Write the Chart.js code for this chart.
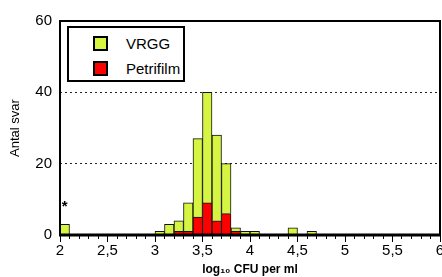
<!DOCTYPE html>
<html>
<head>
<meta charset="utf-8">
<script src="https://cdn.jsdelivr.net/npm/chart.js@4.4.1/dist/chart.umd.min.js"></script>
<style>
  html, body { margin: 0; padding: 0; background: #fff; overflow: hidden; }
  #wrap { position: relative; width: 442px; height: 277px; }
  #legend {
    position: absolute; left: 67px; top: 26px; width: 114px; height: 52px;
    border: 2px solid #000; background: #fff;
    font-family: "Liberation Sans", Arial, sans-serif; font-size: 15px; color: #000;
  }
  .item { position: absolute; left: 24px; height: 16px; line-height: 16px; }
  .item span.box { position: absolute; left: 0; top: 0; width: 11px; height: 11px; border: 2px solid #000; }
  .item span.txt { position: absolute; left: 33px; top: 0; white-space: nowrap; }
</style>
</head>
<body>
<div id="wrap">
  <canvas id="chart" width="442" height="277"></canvas>
  <div id="legend"></div>
</div>
<script>
// bin start (log10 CFU per ml), bins are 0.1 wide; only bins with answers listed
const binStarts = [2.0, 3.0, 3.1, 3.2, 3.3, 3.4, 3.5, 3.6, 3.7, 3.8, 3.9, 4.0, 4.4, 4.6];
// number of answers per bin, stacked: Petrifilm at bottom, VRGG on top
const petrifilm = [0, 0, 0, 1, 1, 5, 9, 4, 6, 1, 0, 0, 0, 0];
const vrgg      = [3, 1, 3, 3, 8, 22, 31, 24, 14, 1, 1, 1, 2, 1];
const yTicks = [0, 20, 40, 60];

const GREEN = '#d6f542';
const RED = '#ff0000';
const FONT = '"Liberation Sans", Arial, sans-serif';

function toPoints(values) {
    return binStarts.map((b, i) => ({ x: +(b + 0.05).toFixed(2), y: values[i] || null }));
}

// frame around the plot area and the asterisk marking the outlier bin
const framePlugin = {
    id: 'frame',
    afterDraw(chart) {
        const a = chart.chartArea;
        const ctx = chart.ctx;
        ctx.save();
        ctx.strokeStyle = '#000';
        ctx.lineWidth = 2;
        ctx.strokeRect(a.left, a.top, a.right - a.left, a.bottom - a.top);
        ctx.lineWidth = 3;
        ctx.beginPath();
        ctx.moveTo(a.left - 1, a.bottom);
        ctx.lineTo(a.right + 1, a.bottom);
        ctx.stroke();

        const xs = chart.scales.x, ys = chart.scales.y;
        ctx.fillStyle = '#000';
        ctx.font = 'bold 15px ' + FONT;
        ctx.textAlign = 'center';
        ctx.textBaseline = 'middle';
        ctx.fillText('*', xs.getPixelForValue(binStarts[0] + 0.05), ys.getPixelForValue(vrgg[0] + petrifilm[0]) - 17);
        ctx.restore();
    }
};

const chart = new Chart(document.getElementById('chart'), {
    type: 'bar',
    data: {
        datasets: [
            {
                label: 'Petrifilm',
                data: toPoints(petrifilm),
                xAxisID: 'x',
                backgroundColor: RED,
                borderColor: '#111',
                borderWidth: 1,
                barPercentage: 1,
                categoryPercentage: 1
            },
            {
                label: 'VRGG',
                data: toPoints(vrgg),
                xAxisID: 'x',
                backgroundColor: GREEN,
                borderColor: '#111',
                borderWidth: 1,
                barPercentage: 1,
                categoryPercentage: 1
            }
        ]
    },
    options: {
        responsive: false,
        animation: false,
        layout: { padding: { top: 21, right: 2, left: 8, bottom: 0 } },
        plugins: {
            legend: { display: false },
            tooltip: { enabled: false }
        },
        scales: {
            x: {
                type: 'linear',
                stacked: true,
                offset: false,
                min: 2,
                max: 6,
                weight: 1,
                border: { display: false },
                grid: {
                    offset: false,
                    drawOnChartArea: false,
                    drawTicks: true,
                    tickLength: 7,
                    color: '#000'
                },
                ticks: {
                    stepSize: 0.5,
                    autoSkip: false,
                    maxRotation: 0,
                    padding: 0,
                    color: '#000',
                    font: { family: FONT, size: 15 },
                    callback: v => String(v).replace('.', ',')
                },
                title: {
                    display: true,
                    text: 'log\u2081\u2080 CFU per ml',
                    color: '#000',
                    padding: { top: 0, bottom: 0 },
                    font: { family: FONT, size: 12, weight: 'bold' }
                },
                afterFit: function (scale) {
                    scale.height = 42;
                    scale.paddingLeft = 0;
                    scale.paddingRight = 0;
                }
            },
            // minor tick marks every 0.1, no labels
            xMinor: {
                type: 'linear',
                axis: 'x',
                position: 'bottom',
                weight: -1,
                offset: false,
                min: 2,
                max: 6,
                border: { display: false },
                grid: { offset: false, drawOnChartArea: false, drawTicks: true, tickLength: 4, color: '#000' },
                ticks: { stepSize: 0.1, autoSkip: false, callback: () => '' },
                afterFit: function (scale) {
                    scale.height = 0;
                    scale.paddingLeft = 0;
                    scale.paddingRight = 0;
                }
            },
            y: {
                stacked: true,
                min: 0,
                max: 60,
                border: { display: false, dash: [2, 3] },
                grid: {
                    drawTicks: false,
                    color: ctx => (ctx.tick.value === 20 || ctx.tick.value === 40) ? '#222' : 'rgba(0,0,0,0)',
                    lineWidth: 1
                },
                afterBuildTicks: function (scale) {
                    scale.ticks = yTicks.map(v => ({ value: v }));
                },
                ticks: {
                    padding: 8,
                    color: '#000',
                    font: { family: FONT, size: 15 }
                },
                title: {
                    display: true,
                    text: 'Antal svar',
                    color: '#000',
                    padding: { top: 0, bottom: 4 },
                    font: { family: FONT, size: 13 }
                },
                afterFit: function (scale) {
                    scale.width = 52;
                    scale.paddingTop = 0;
                    scale.paddingBottom = 0;
                }
            }
        }
    },
    plugins: [framePlugin]
});

// legend box, built from the chart's datasets (VRGG first)
const legend = document.getElementById('legend');
[chart.data.datasets[1], chart.data.datasets[0]].forEach((ds, i) => {
    const item = document.createElement('div');
    item.className = 'item';
    item.style.top = (8 + i * 25) + 'px';
    item.innerHTML = '<span class="box" style="background:' + ds.backgroundColor + '"></span><span class="txt">' + ds.label + '</span>';
    legend.appendChild(item);
});
</script>
</body>
</html>
